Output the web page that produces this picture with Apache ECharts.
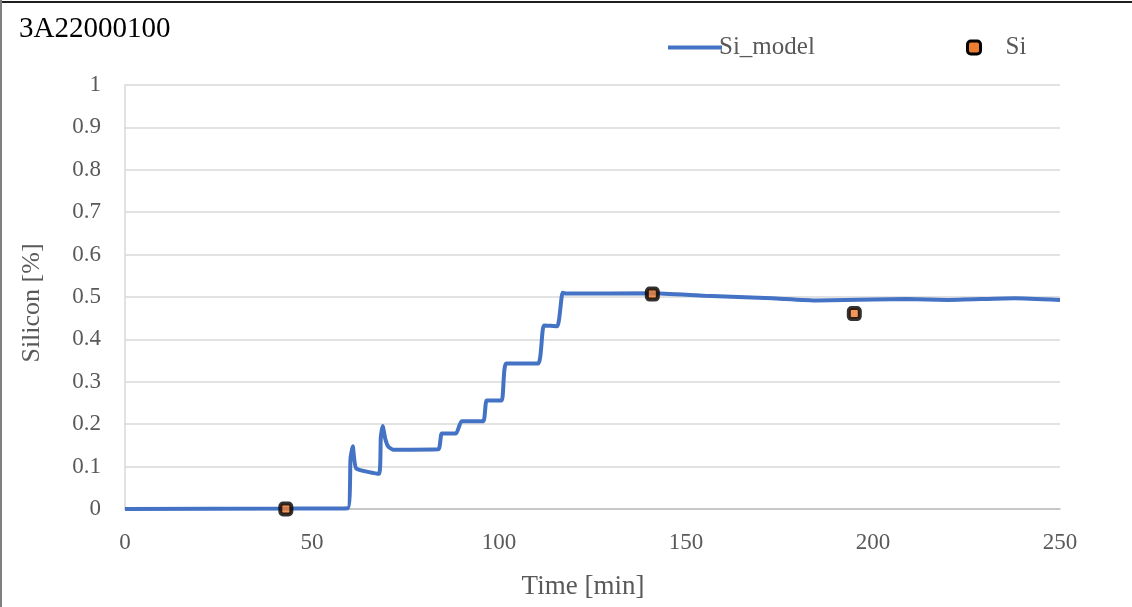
<!DOCTYPE html>
<html>
<head>
<meta charset="utf-8">
<script src="https://cdn.jsdelivr.net/npm/echarts@6/dist/echarts.min.js"></script>
<style>
  html, body { margin: 0; padding: 0; background: #fff; }
  #chart { width: 1132px; height: 607px; }
</style>
</head>
<body>
<div id="chart"></div>
<script>
// Modelled silicon content over the heat (time in minutes, Si in %)
const modelTime = [0, 45, 59.6, 60.3, 60.9, 61.8, 67.9, 68.4, 68.9, 69.6, 70.4, 71.7, 83.8, 84.7, 88.5, 90, 95.8, 96.7, 100.7, 101.9, 110.5, 112, 115.6, 117, 118, 141, 155, 173, 185, 200, 209, 220, 238, 250];
const modelSi   = [0, 0.001, 0.002, 0.120, 0.148, 0.096, 0.083, 0.170, 0.196, 0.165, 0.147, 0.140, 0.141, 0.178, 0.178, 0.207, 0.207, 0.256, 0.256, 0.343, 0.343, 0.433, 0.431, 0.510, 0.508, 0.509, 0.503, 0.497, 0.492, 0.494, 0.495, 0.493, 0.497, 0.493];

// Measured samples
const sampleTime = [43, 141, 195];
const sampleSi   = [0, 0.507, 0.461];

const chartTitle = '3A22000100';
const xName = 'Time [min]';
const yName = 'Silicon [%]';

const FONT = '"Liberation Serif", "DejaVu Serif", serif';
const TXT = '#595959';

const chart = echarts.init(document.getElementById('chart'), null, { renderer: 'canvas' });

chart.setOption({
  backgroundColor: '#ffffff',
  animation: false,
  grid: { left: 125, right: 72, top: 85, bottom: 98, containLabel: false },
  legend: [
    {
      data: ['Si_model'], left: 663, top: 30, icon: 'rect',
      itemWidth: 54, itemHeight: 4,
      itemStyle: { color: '#4472c4' },
      textStyle: { fontFamily: FONT, fontSize: 25, color: TXT, padding: [0, 0, 0, -8] }
    },
    {
      data: ['Si'], left: 961, top: 30, icon: 'roundRect',
      itemWidth: 13, itemHeight: 13,
      itemStyle: { color: '#ed7d31', borderWidth: 3, borderColor: '#000000', opacity: 1 },
      textStyle: { fontFamily: FONT, fontSize: 25, color: TXT, padding: [0, 0, 0, 20] }
    }
  ],
  xAxis: {
    type: 'value', min: 0, max: 250, interval: 50,
    axisLine: { show: true, lineStyle: { color: '#bfbfbf', width: 1.5 } },
    axisTick: { show: false },
    splitLine: { show: false },
    axisLabel: { fontFamily: FONT, fontSize: 23, color: TXT, margin: 22 }
  },
  yAxis: {
    type: 'value', min: 0, max: 1, interval: 0.1,
    axisLine: { show: true, lineStyle: { color: '#d9d9d9', width: 1.5 } },
    axisTick: { show: false },
    splitLine: { show: true, lineStyle: { color: '#d9d9d9', width: 1.5 } },
    axisLabel: {
      fontFamily: FONT, fontSize: 23, color: TXT, margin: 24,
      formatter: v => String(Math.round(v * 10) / 10)
    }
  },
  graphic: [
    { type: 'rect', shape: { x: 0, y: 1, width: 1132, height: 2 }, style: { fill: '#202020' }, z: 100 },
    { type: 'rect', shape: { x: 0, y: 0, width: 2, height: 607 }, style: { fill: '#7f7f7f' }, z: 100 },
    { type: 'text', left: 19, top: 15, style: { text: chartTitle, font: '29px ' + FONT, fill: '#000000' } },
    { type: 'text', x: 583, y: 587, style: { text: xName, font: '27px ' + FONT, fill: TXT, textAlign: 'center', textVerticalAlign: 'middle' } },
    { type: 'text', x: 32, y: 303, rotation: Math.PI / 2, style: { text: yName, font: '26px ' + FONT, fill: TXT, textAlign: 'center', textVerticalAlign: 'middle' } }
  ],
  series: [
    {
      name: 'Si_model', type: 'line',
      data: modelTime.map((t, i) => [t, modelSi[i]]),
      symbol: 'none', smooth: 0.15,
      lineStyle: { color: '#4472c4', width: 4 },
      itemStyle: { color: '#4472c4' },
      z: 2
    },
    {
      name: 'Si', type: 'scatter',
      data: sampleTime.map((t, i) => [t, sampleSi[i]]),
      symbol: 'roundRect', symbolSize: 11,
      itemStyle: { color: '#ed7d31', borderColor: '#000000', borderWidth: 4 },
      z: 3
    }
  ]
});
</script>
</body>
</html>
